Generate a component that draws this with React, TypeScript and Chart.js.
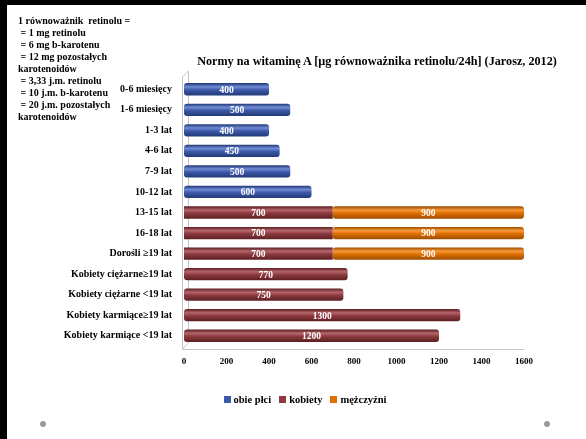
import React, { useEffect, useRef } from "react";
import { Chart, registerables } from "chart.js";

Chart.register(...registerables);

const categories = [
  "0-6 miesięcy",
  "1-6 miesięcy",
  "1-3 lat",
  "4-6 lat",
  "7-9 lat",
  "10-12 lat",
  "13-15 lat",
  "16-18 lat",
  "Dorośli ≥19 lat",
  "Kobiety ciężarne≥19 lat",
  "Kobiety ciężarne <19 lat",
  "Kobiety karmiące≥19 lat",
  "Kobiety karmiące <19 lat",
];

const obiePlci = [400, 500, 400, 450, 500, 600, null, null, null, null, null, null, null];
const kobiety = [null, null, null, null, null, null, 700, 700, 700, 770, 750, 1300, 1200];
const mezczyzni = [null, null, null, null, null, null, 900, 900, 900, null, null, null, null];

const xTicks = [0, 200, 400, 600, 800, 1000, 1200, 1400, 1600];

const seriesNames = ["obie płci", "kobiety", "mężczyźni"];

const noteLines = [
  "1 równoważnik  retinolu =",
  " = 1 mg retinolu",
  " = 6 mg b-karotenu",
  " = 12 mg pozostałych",
  "karotenoidów",
  " = 3,33 j.m. retinolu",
  " = 10 j.m. b-karotenu",
  " = 20 j.m. pozostałych",
  "karotenoidów",
];

const titleText = "Normy na witaminę A [µg równoważnika retinolu/24h] (Jarosz, 2012)";

const colors = [
  { base: "#3d59a8", light: "#6f8bd4", dark: "#223a78" },
  { base: "#8c3a3f", light: "#b5666a", dark: "#5e2024" },
  { base: "#e07000", light: "#f59a3c", dark: "#a04e00" },
];

const FONT = "'Liberation Serif', 'Times New Roman', serif";

function makeGradient(ctx: any, idx: number) {
  const chart = ctx.chart;
  const c = colors[idx];
  const ys = chart.scales && chart.scales.y;
  if (!ys || ctx.type !== "data") return c.base;
  const y = ys.getPixelForValue(ctx.dataIndex);
  if (!isFinite(y)) return c.base;
  const g = chart.ctx.createLinearGradient(0, y - 6, 0, y + 6);
  g.addColorStop(0, c.dark);
  g.addColorStop(0.3, c.light);
  g.addColorStop(0.55, c.base);
  g.addColorStop(1, c.dark);
  return g;
}

const valueLabels = {
  id: "valueLabels",
  afterDatasetsDraw(chart: any) {
    const ctx = chart.ctx;
    ctx.save();
    ctx.font = `bold 9.5px ${FONT}`;
    ctx.fillStyle = "#ffffff";
    ctx.textAlign = "center";
    ctx.textBaseline = "middle";
    chart.data.datasets.forEach((ds: any, di: number) => {
      const meta = chart.getDatasetMeta(di);
      meta.data.forEach((el: any, i: number) => {
        const v = ds.data[i];
        if (v === null || v === undefined) return;
        const cx = (el.x + el.base) / 2;
        ctx.fillText(String(v), cx, el.y + 1);
      });
    });
    ctx.restore();
  },
};

const wall3d = {
  id: "wall3d",
  beforeDatasetsDraw(chart: any) {
    const { ctx, chartArea } = chart;
    const l = chartArea.left;
    const r = chartArea.right;
    const t = chartArea.top;
    const b = chartArea.bottom;
    ctx.save();
    ctx.strokeStyle = "#c4c4c4";
    ctx.lineWidth = 1;
    ctx.beginPath();
    ctx.moveTo(l - 1.5, t - 2);
    ctx.lineTo(l - 1.5, b + 3);
    ctx.moveTo(l + 4.5, t - 8);
    ctx.lineTo(l + 4.5, b - 3);
    ctx.moveTo(l - 1.5, t - 2);
    ctx.lineTo(l + 4.5, t - 8);
    ctx.moveTo(l - 1.5, b + 3);
    ctx.lineTo(l + 4.5, b - 3);
    ctx.moveTo(l - 1.5, b + 3.5);
    ctx.lineTo(r, b + 3.5);
    ctx.stroke();
    ctx.restore();
  },
};

export default function App() {
  const ref = useRef<HTMLCanvasElement | null>(null);

  useEffect(() => {
    if (!ref.current) return;
    const chart = new Chart(ref.current, {
      type: "bar",
      data: {
        labels: categories,
        datasets: [obiePlci, kobiety, mezczyzni].map((d, i) => ({
          label: seriesNames[i],
          data: d,
          backgroundColor: (ctx: any) => makeGradient(ctx, i),
          borderColor: colors[i].dark,
          borderWidth: 0,
          borderRadius: 3,
          borderSkipped: false,
          barPercentage: 0.6,
          categoryPercentage: 1,
        })),
      },
      options: {
        indexAxis: "y",
        responsive: false,
        animation: false,
        layout: { padding: { left: 0, right: 62, top: 79, bottom: 68 } },
        plugins: {
          legend: { display: false },
          title: { display: false },
          tooltip: { enabled: false },
        },
        scales: {
          x: {
            stacked: true,
            min: 0,
            max: 1600,
            afterBuildTicks: (scale: any) => {
              scale.ticks = xTicks.map((v) => ({ value: v }));
            },
            afterFit: (scale: any) => {
              scale.height = 25;
            },
            grid: { display: false, drawTicks: false },
            border: { display: false },
            ticks: {
              padding: 10,
              color: "#000",
              callback: (v: any) => String(v),
              font: { family: FONT, size: 9, weight: "bold" },
            },
          },
          y: {
            stacked: true,
            afterFit: (scale: any) => {
              scale.width = 184;
            },
            grid: { display: false, drawTicks: false },
            border: { display: false },
            ticks: {
              padding: 12,
              color: "#000",
              font: { family: FONT, size: 10, weight: "bold" },
            },
          },
        },
      },
      plugins: [wall3d, valueLabels],
    });
    return () => chart.destroy();
  }, []);

  const legendItems = seriesNames.map((n, i) => (
    <span key={n} style={{ display: "inline-flex", alignItems: "center", marginRight: i < 2 ? 8 : 0 }}>
      <span
        style={{
          display: "inline-block",
          width: 7,
          height: 7,
          background: colors[i].base,
          marginRight: 3,
        }}
      />
      {n}
    </span>
  ));

  return (
    <div
      style={{
        position: "absolute",
        left: 0,
        top: 0,
        width: 586,
        height: 439,
        background: "#fff",
        overflow: "hidden",
        fontFamily: FONT,
      }}
    >
      <canvas ref={ref} width={586} height={439} style={{ position: "absolute", left: 0, top: 0 }} />
      <div style={{ position: "absolute", left: 0, top: 0, width: 586, height: 5, background: "#000" }} />
      <div style={{ position: "absolute", left: 0, top: 0, width: 7, height: 439, background: "#000" }} />
      <div
        style={{
          position: "absolute",
          left: 18,
          top: 15,
          fontSize: 10,
          fontWeight: "bold",
          lineHeight: "12px",
          color: "#000",
          whiteSpace: "pre",
        }}
      >
        {noteLines.map((l, i) => (
          <div key={i}>{l}</div>
        ))}
      </div>
      <div
        style={{
          position: "absolute",
          left: 177,
          width: 400,
          top: 54,
          textAlign: "center",
          fontSize: 12.2,
          fontWeight: "bold",
          color: "#000",
          whiteSpace: "nowrap",
        }}
      >
        {titleText}
      </div>
      <div
        style={{
          position: "absolute",
          left: 105,
          width: 400,
          top: 394,
          textAlign: "center",
          fontSize: 10.5,
          fontWeight: "bold",
          color: "#000",
          whiteSpace: "nowrap",
        }}
      >
        {legendItems}
      </div>
      <div style={{ position: "absolute", left: 40, top: 421, width: 6, height: 6, borderRadius: 3, background: "#9a9a9a" }} />
      <div style={{ position: "absolute", left: 544, top: 421, width: 6, height: 6, borderRadius: 3, background: "#9a9a9a" }} />
    </div>
  );
}
